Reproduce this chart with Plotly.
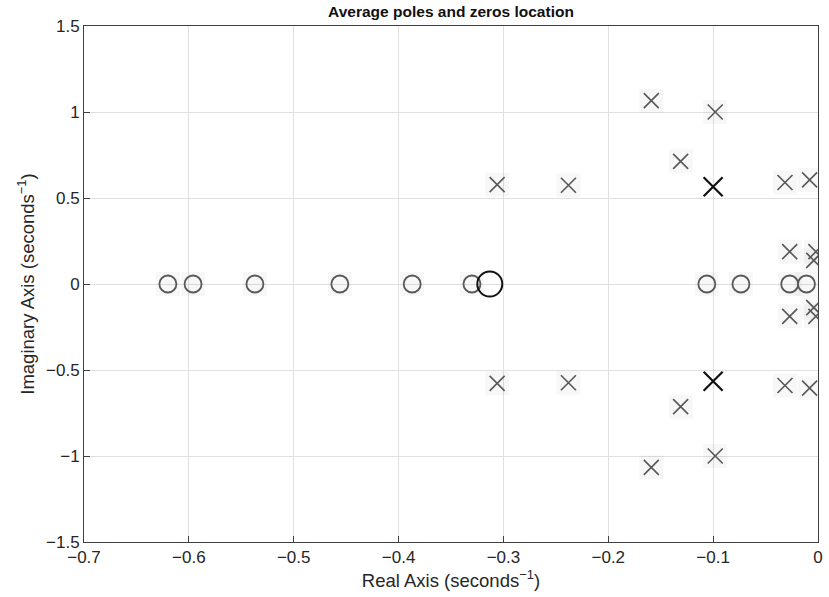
import plotly.graph_objects as go

# Zeros (grey circles) on the real axis
zeros_real = [-0.620, -0.596, -0.537, -0.456, -0.387, -0.330, -0.106, -0.0735, -0.027, -0.011]
zeros_imag = [0, 0, 0, 0, 0, 0, 0, 0, 0, 0]

# Average zero (large black circle)
avg_zero_real = [-0.313]
avg_zero_imag = [0]

# Poles (grey crosses)
poles_real = [-0.159, -0.159, -0.098, -0.098, -0.131, -0.131, -0.306, -0.306,
              -0.238, -0.238, -0.0315, -0.0315, -0.008, -0.008, -0.027, -0.027,
              -0.002, -0.002, -0.004, -0.004]
poles_imag = [1.066, -1.066, 1.0, -1.0, 0.713, -0.713, 0.578, -0.578,
              0.574, -0.574, 0.59, -0.59, 0.605, -0.605, 0.188, -0.188,
              0.188, -0.188, 0.137, -0.137]

# Average poles (black crosses)
avg_pole_real = [-0.100, -0.100]
avg_pole_imag = [0.565, -0.565]

x_ticks = [-0.7, -0.6, -0.5, -0.4, -0.3, -0.2, -0.1, 0]
y_ticks = [-1.5, -1, -0.5, 0, 0.5, 1, 1.5]

font_family = "Liberation Sans, Arial, sans-serif"

fig = go.Figure()

# faint grey boxes behind grey markers
fig.add_trace(go.Scatter(
    x=zeros_real + poles_real, y=zeros_imag + poles_imag, mode="markers",
    marker=dict(symbol="square", size=24, color="rgba(0,0,0,0.03)", line=dict(width=0)),
    hoverinfo="skip", showlegend=False))

fig.add_trace(go.Scatter(
    x=zeros_real, y=zeros_imag, mode="markers", name="zeros",
    marker=dict(symbol="circle-open", size=17, color="#585858", line=dict(width=1.8, color="#585858")),
    showlegend=False))

fig.add_trace(go.Scatter(
    x=poles_real, y=poles_imag, mode="markers", name="poles",
    marker=dict(symbol="x-thin-open", size=15, color="#585858", line=dict(width=1.6, color="#585858")),
    showlegend=False))

fig.add_trace(go.Scatter(
    x=avg_zero_real, y=avg_zero_imag, mode="markers", name="average zero",
    marker=dict(symbol="circle-open", size=25, color="#111111", line=dict(width=2, color="#111111")),
    showlegend=False))

fig.add_trace(go.Scatter(
    x=avg_pole_real, y=avg_pole_imag, mode="markers", name="average poles",
    marker=dict(symbol="x-thin-open", size=19, color="#111111", line=dict(width=2.2, color="#111111")),
    showlegend=False))

fig.update_layout(
    width=829, height=597,
    margin=dict(l=84, r=6, t=26, b=55),
    paper_bgcolor="white", plot_bgcolor="white",
    font=dict(family=font_family, size=17, color="#262626"),
    title=dict(text="<b>Average poles and zeros location</b>", x=0.5, xref="paper",
               y=1 - 12 / 597, yref="container", yanchor="middle",
               font=dict(size=15.5, color="#111111", family=font_family)),
)

fig.update_xaxes(
    range=[-0.7, 0], tickvals=x_ticks,
    showgrid=True, gridcolor="#e0e0e0", gridwidth=1,
    zeroline=False, showline=True, linecolor="#404040", linewidth=1, mirror=True,
    ticks="inside", ticklen=6, tickcolor="#404040",
    title=dict(text="Real Axis (seconds<sup>−1</sup>)", font=dict(size=18.5), standoff=4),
    tickfont=dict(size=17),
)
fig.update_yaxes(
    range=[-1.5, 1.5], tickvals=y_ticks,
    showgrid=True, gridcolor="#e0e0e0", gridwidth=1,
    zeroline=False, showline=True, linecolor="#404040", linewidth=1, mirror=True,
    ticks="inside", ticklen=6, tickcolor="#404040",
    title=dict(text="Imaginary Axis (seconds<sup>−1</sup>)", font=dict(size=18.5), standoff=6),
    tickfont=dict(size=17),
)

fig.write_html("out.html")
